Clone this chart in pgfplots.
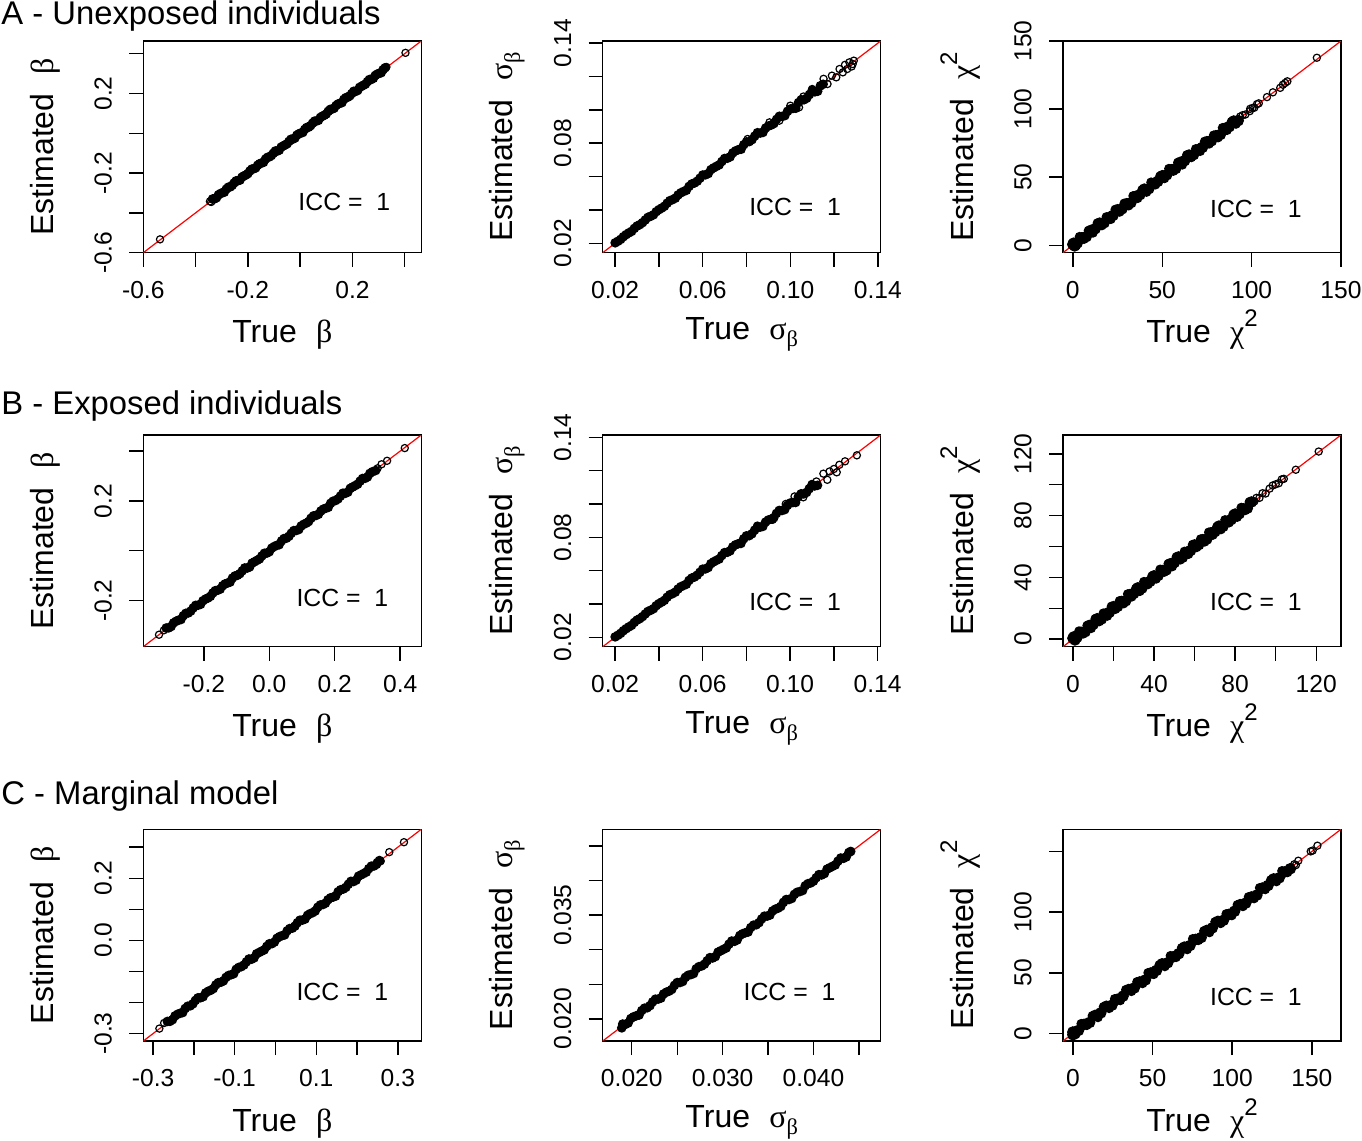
\documentclass[border=0pt]{standalone}
\usepackage{fontspec}
\setmainfont{Liberation Sans}
\newfontfamily\grk{Liberation Serif}
\usepackage{graphicx}
\usepackage{pgfplots}
\pgfplotsset{compat=1.18}
\newcommand{\bet}{{\grk β}}
\newcommand{\sig}{{\grk σ}\raisebox{-0.22em}{\scalebox{0.7}{\grk β}}}
\newcommand{\chis}{{\grk χ}\raisebox{0.5em}{\scalebox{0.75}{2}}}
\newcommand{\icc}{ICC =\ \ 1}
\tikzset{icc/.style={anchor=base, font=\fontsize{12.4}{14}\selectfont}}
\pgfplotsset{
  panel/.style={
    scale only axis, width=139pt, height=105.85pt, anchor=north west,
    axis line style={line width=0.7pt},
    every tick/.style={black, line width=0.7pt},
    tick align=outside, major tick length=7pt,
    xtick pos=bottom, ytick pos=left,
    scaled ticks=false,
    tick label style={font=\fontsize{12.3}{14}\selectfont},
    xticklabel style={anchor=base},
    yticklabel style={rotate=90, anchor=base},
    xticklabel shift=15.8pt, yticklabel shift=8.8pt,
    label style={font=\fontsize{16}{19}\selectfont},
    xlabel style={at={(axis description cs:0.5,-0.4251)}, anchor=base},
    ylabel style={at={(axis description cs:-0.3237,0.5)}, anchor=base},
  },
  sigpanel/.style={panel, xlabel style={at={(axis description cs:0.5,-0.410)}}},
  band/.style={only marks, mark=*, mark size=2.1pt, mark options={line width=0.6pt, draw=black, fill=black}},
  bandc/.style={only marks, mark=*, mark size=2.6pt, mark options={line width=0.6pt, draw=black, fill=black}},
  outl/.style={only marks, mark=o, mark size=1.8pt, mark options={line width=0.6pt, draw=black}},
  diag/.style={red, line width=0.6pt, no marks},
}
\begin{document}
\begin{tikzpicture}
\useasboundingbox (0pt,0pt) rectangle (681pt,-570.5pt);
\node[anchor=base west, inner sep=0pt, font=\fontsize{16.4}{19}\selectfont] at (0.5pt,-12pt) {A - Unexposed individuals};
\node[anchor=base west, inner sep=0pt, font=\fontsize{16.4}{19}\selectfont] at (0.5pt,-207pt) {B - Exposed individuals};
\node[anchor=base west, inner sep=0pt, font=\fontsize{16.4}{19}\selectfont] at (0.5pt,-402pt) {C - Marginal model};

% ---------- A1
\begin{axis}[panel, at={(71.65pt,-20.5pt)},
  xmin=-0.6, xmax=0.4635, ymin=-0.6, ymax=0.4635,
  xtick={-0.6,-0.4,-0.2,0,0.2,0.4}, xticklabels={-0.6,,-0.2,,0.2,},
  ytick={-0.6,-0.4,-0.2,0,0.2,0.4}, yticklabels={-0.6,,-0.2,,0.2,},
  xlabel={True\hspace{0.6em}\bet}, ylabel={Estimated\hspace{0.6em}\bet}]
\addplot[band] coordinates {(-0.335,-0.330)(-0.320,-0.324)(-0.305,-0.303)(-0.290,-0.296)(-0.275,-0.271)(-0.260,-0.262)(-0.245,-0.239)(-0.230,-0.235)(-0.215,-0.214)(-0.200,-0.203)(-0.185,-0.180)(-0.170,-0.174)(-0.155,-0.153)(-0.140,-0.146)(-0.125,-0.121)(-0.110,-0.112)(-0.095,-0.089)(-0.080,-0.085)(-0.065,-0.064)(-0.050,-0.053)(-0.035,-0.030)(-0.020,-0.024)(-0.005,-0.003)(0.010,0.004)(0.025,0.029)(0.040,0.038)(0.055,0.061)(0.070,0.065)(0.085,0.086)(0.100,0.097)(0.115,0.120)(0.130,0.126)(0.145,0.147)(0.160,0.154)(0.175,0.179)(0.190,0.188)(0.205,0.211)(0.220,0.215)(0.235,0.236)(0.250,0.247)(0.265,0.270)(0.280,0.276)(0.295,0.297)(0.310,0.304)(0.325,0.329)};
\addplot[band] coordinates {(-0.3275,-0.3295)(-0.3125,-0.3095)(-0.2975,-0.2985)(-0.2825,-0.2805)(-0.2675,-0.2695)(-0.2525,-0.2495)(-0.2375,-0.2385)(-0.2225,-0.2205)(-0.2075,-0.2095)(-0.1925,-0.1895)(-0.1775,-0.1785)(-0.1625,-0.1605)(-0.1475,-0.1495)(-0.1325,-0.1295)(-0.1175,-0.1185)(-0.1025,-0.1005)(-0.0875,-0.0895)(-0.0725,-0.0695)(-0.0575,-0.0585)(-0.0425,-0.0405)(-0.0275,-0.0295)(-0.0125,-0.0095)(0.0025,0.0015)(0.0175,0.0195)(0.0325,0.0305)(0.0475,0.0505)(0.0625,0.0615)(0.0775,0.0795)(0.0925,0.0905)(0.1075,0.1105)(0.1225,0.1215)(0.1375,0.1395)(0.1525,0.1505)(0.1675,0.1705)(0.1825,0.1815)(0.1975,0.1995)(0.2125,0.2105)(0.2275,0.2305)(0.2425,0.2415)(0.2575,0.2595)(0.2725,0.2705)(0.2875,0.2905)(0.3025,0.3015)(0.3175,0.3195)};
\addplot[outl] coordinates {(-0.536,-0.533)(0.403,0.404)(-0.345,-0.342)(-0.340,-0.345)(0.330,0.333)};
\addplot[diag] coordinates {(-1,-1)(1,1)};
\node[icc] at (rel axis cs:0.723,0.198) {\icc};
\end{axis}

% ---------- A2
\begin{axis}[sigpanel, at={(301.35pt,-20.5pt)},
  xmin=0.0143, xmax=0.1413, ymin=0.0143, ymax=0.1413,
  xtick={0.02,0.04,0.06,0.08,0.10,0.12,0.14}, xticklabels={0.02,,0.06,,0.10,,0.14},
  ytick={0.02,0.04,0.06,0.08,0.10,0.12,0.14}, yticklabels={0.02,,,0.08,,,0.14},
  xlabel={True\hspace{0.6em}\sig}, ylabel={Estimated\hspace{0.6em}\sig}]
\addplot[band] coordinates {(0.0200,0.02024)(0.0225,0.02228)(0.0250,0.02513)(0.0275,0.02709)(0.0300,0.03030)(0.0325,0.03234)(0.0350,0.03553)(0.0375,0.03705)(0.0400,0.04012)(0.0425,0.04216)(0.0450,0.04554)(0.0475,0.04703)(0.0500,0.05025)(0.0525,0.05171)(0.0550,0.05555)(0.0575,0.05721)(0.0600,0.06090)(0.0625,0.06175)(0.0650,0.06520)(0.0675,0.06696)(0.0700,0.07084)(0.0725,0.07178)(0.0750,0.07538)(0.0775,0.07634)(0.0800,0.08080)(0.0825,0.08209)(0.0850,0.08628)(0.0875,0.08645)(0.0900,0.09027)(0.0925,0.09176)(0.0950,0.09614)(0.0975,0.09653)(0.1000,0.10050)(0.1025,0.10096)(0.1050,0.10605)(0.1075,0.10696)(0.1100,0.11165)(0.1125,0.11115)(0.1150,0.11535)};
\addplot[band] coordinates {(0.02125,0.02117)(0.02375,0.02389)(0.02625,0.02620)(0.02875,0.02887)(0.03125,0.03113)(0.03375,0.03395)(0.03625,0.03618)(0.03875,0.03891)(0.04125,0.04109)(0.04375,0.04401)(0.04625,0.04616)(0.04875,0.04895)(0.05125,0.05105)(0.05375,0.05407)(0.05625,0.05614)(0.05875,0.05899)(0.06125,0.06101)(0.06375,0.06413)(0.06625,0.06612)(0.06875,0.06903)(0.07125,0.07097)(0.07375,0.07419)(0.07625,0.07610)(0.07875,0.07907)(0.08125,0.08093)(0.08375,0.08425)(0.08625,0.08608)(0.08875,0.08911)(0.09125,0.09089)(0.09375,0.09431)(0.09625,0.09606)(0.09875,0.09915)(0.10125,0.10085)(0.10375,0.10437)(0.10625,0.10604)(0.10875,0.10919)(0.11125,0.11081)(0.11375,0.11443)};
\addplot[outl] coordinates {(0.0805,0.0825)(0.0905,0.0925)(0.0950,0.0935)(0.1000,0.1025)(0.1040,0.1015)(0.1060,0.1080)(0.1100,0.1125)(0.1152,0.1186)(0.1170,0.1155)(0.1190,0.1205)(0.1210,0.1195)(0.1225,0.1245)(0.1240,0.1225)(0.1250,0.1270)(0.1260,0.1245)(0.1270,0.1285)(0.1280,0.1260)(0.1285,0.1275)(0.1290,0.1295)};
\addplot[diag] coordinates {(0,0)(0.2,0.2)};
\node[icc] at (rel axis cs:0.692,0.174) {\icc};
\end{axis}

% ---------- A3
\begin{axis}[panel, at={(531.5pt,-20.5pt)},
  xmin=-5.5, xmax=150, ymin=-5.5, ymax=150,
  xtick={0,50,100,150}, xticklabels={0,50,100,150},
  ytick={0,50,100,150}, yticklabels={0,50,100,150},
  xlabel={True\hspace{0.6em}\chis}, ylabel={Estimated\hspace{0.6em}\chis}]
\addplot[bandc] coordinates {(0,0.6)(1,-0.5)(0.5,1.5)(1.5,0.2)(2.5,1.7)(5,5.4)(7.5,6.3)(10,10.8)(12.5,12.1)(15,16.2)(17.5,16.5)(20,20.2)(22.5,21.9)(25,26.0)(27.5,26.7)(30,30.4)(32.5,31.3)(35,35.8)(37.5,37.1)(40,41.2)(42.5,41.5)(45,45.2)(47.5,46.9)(50,51.0)(52.5,51.7)(55,55.4)(57.5,56.3)(60,60.8)(62.5,62.1)(65,66.2)(67.5,66.5)(70,70.2)(72.5,71.9)(75,76.0)(77.5,76.7)(80,80.4)(82.5,81.3)(85,85.8)(87.5,87.1)(90,91.2)(92.5,91.5)};
\addplot[band] coordinates {(1.25,-0.5)(3.75,6.25)(6.25,4.45)(8.75,10.75)(11.25,9.05)(13.75,16.25)(16.25,14.45)(18.75,20.75)(21.25,19.05)(23.75,26.25)(26.25,24.45)(28.75,30.75)(31.25,29.05)(33.75,36.25)(36.25,34.45)(38.75,40.75)(41.25,39.05)(43.75,46.25)(46.25,44.45)(48.75,50.75)(51.25,49.05)(53.75,56.25)(56.25,54.45)(58.75,60.75)(61.25,59.05)(63.75,66.25)(66.25,64.45)(68.75,70.75)(71.25,69.05)(73.75,76.25)(76.25,74.45)(78.75,80.75)(81.25,79.05)(83.75,86.25)(86.25,84.45)(88.75,90.75)(91.25,89.05)};
\addplot[outl] coordinates {(93.6,94.5)(95,95.5)(96.5,96)(99,98.5)(99.2,100.2)(100.5,100.8)(101.5,101)(103,103.6)(104,104.2)(108.6,108.8)(111.9,112.3)(116,115.6)(117.5,117.9)(118.8,119.2)(120,120.4)(136.5,137.7)};
\addplot[diag] coordinates {(-20,-20)(200,200)};
\node[icc] at (rel axis cs:0.694,0.167) {\icc};
\end{axis}

% ---------- B1
\begin{axis}[panel, at={(71.65pt,-217.5pt)},
  xmin=-0.385, xmax=0.4645, ymin=-0.385, ymax=0.4645,
  xtick={-0.2,0,0.2,0.4}, xticklabels={-0.2,0.0,0.2,0.4},
  ytick={-0.2,0,0.2,0.4}, yticklabels={-0.2,,0.2,},
  xlabel={True\hspace{0.6em}\bet}, ylabel={Estimated\hspace{0.6em}\bet}]
\addplot[band] coordinates {(-0.315,-0.310)(-0.300,-0.304)(-0.285,-0.283)(-0.270,-0.276)(-0.255,-0.251)(-0.240,-0.242)(-0.225,-0.219)(-0.210,-0.215)(-0.195,-0.194)(-0.180,-0.183)(-0.165,-0.160)(-0.150,-0.154)(-0.135,-0.133)(-0.120,-0.126)(-0.105,-0.101)(-0.090,-0.092)(-0.075,-0.069)(-0.060,-0.065)(-0.045,-0.044)(-0.030,-0.033)(-0.015,-0.010)(0.000,-0.004)(0.015,0.017)(0.030,0.024)(0.045,0.049)(0.060,0.058)(0.075,0.081)(0.090,0.085)(0.105,0.106)(0.120,0.117)(0.135,0.140)(0.150,0.146)(0.165,0.167)(0.180,0.174)(0.195,0.199)(0.210,0.208)(0.225,0.231)(0.240,0.235)(0.255,0.256)(0.270,0.267)(0.285,0.290)(0.300,0.296)(0.315,0.317)(0.325,0.322)};
\addplot[band] coordinates {(-0.3075,-0.3095)(-0.2925,-0.2895)(-0.2775,-0.2785)(-0.2625,-0.2605)(-0.2475,-0.2495)(-0.2325,-0.2295)(-0.2175,-0.2185)(-0.2025,-0.2005)(-0.1875,-0.1895)(-0.1725,-0.1695)(-0.1575,-0.1585)(-0.1425,-0.1405)(-0.1275,-0.1295)(-0.1125,-0.1095)(-0.0975,-0.0985)(-0.0825,-0.0805)(-0.0675,-0.0695)(-0.0525,-0.0495)(-0.0375,-0.0385)(-0.0225,-0.0205)(-0.0075,-0.0095)(0.0075,0.0105)(0.0225,0.0215)(0.0375,0.0395)(0.0525,0.0505)(0.0675,0.0705)(0.0825,0.0815)(0.0975,0.0995)(0.1125,0.1105)(0.1275,0.1305)(0.1425,0.1415)(0.1575,0.1595)(0.1725,0.1705)(0.1875,0.1905)(0.2025,0.2015)(0.2175,0.2195)(0.2325,0.2305)(0.2475,0.2505)(0.2625,0.2615)(0.2775,0.2795)(0.2925,0.2905)(0.3075,0.3105)};
\addplot[outl] coordinates {(-0.337,-0.337)(-0.322,-0.319)(0.331,0.331)(0.343,0.347)(0.360,0.361)(0.414,0.412)};
\addplot[diag] coordinates {(-1,-1)(1,1)};
\node[icc] at (rel axis cs:0.716,0.189) {\icc};
\end{axis}

% ---------- B2
\begin{axis}[sigpanel, at={(301.35pt,-217.5pt)},
  xmin=0.0143, xmax=0.1414, ymin=0.0143, ymax=0.1414,
  xtick={0.02,0.04,0.06,0.08,0.10,0.12,0.14}, xticklabels={0.02,,0.06,,0.10,,0.14},
  ytick={0.02,0.04,0.06,0.08,0.10,0.12,0.14}, yticklabels={0.02,,,0.08,,,0.14},
  xlabel={True\hspace{0.6em}\sig}, ylabel={Estimated\hspace{0.6em}\sig}]
\addplot[band] coordinates {(0.0200,0.02020)(0.0225,0.02232)(0.0250,0.02510)(0.0275,0.02712)(0.0300,0.03027)(0.0325,0.03238)(0.0350,0.03548)(0.0375,0.03710)(0.0400,0.04015)(0.0425,0.04212)(0.0450,0.04550)(0.0475,0.04708)(0.0500,0.05030)(0.0525,0.05175)(0.0550,0.05550)(0.0575,0.05725)(0.0600,0.06085)(0.0625,0.06180)(0.0650,0.06525)(0.0675,0.06690)(0.0700,0.07080)(0.0725,0.07182)(0.0750,0.07545)(0.0775,0.07630)(0.0800,0.08085)(0.0825,0.08205)(0.0850,0.08620)(0.0875,0.08650)(0.0900,0.09035)(0.0925,0.09170)(0.0950,0.09610)(0.0975,0.09660)(0.1000,0.10055)(0.1025,0.10090)(0.1050,0.10610)(0.1075,0.10690)(0.1100,0.11150)(0.1125,0.11120)};
\addplot[band] coordinates {(0.02125,0.02117)(0.02375,0.02389)(0.02625,0.02620)(0.02875,0.02887)(0.03125,0.03113)(0.03375,0.03395)(0.03625,0.03618)(0.03875,0.03891)(0.04125,0.04109)(0.04375,0.04401)(0.04625,0.04616)(0.04875,0.04895)(0.05125,0.05105)(0.05375,0.05407)(0.05625,0.05614)(0.05875,0.05899)(0.06125,0.06101)(0.06375,0.06413)(0.06625,0.06612)(0.06875,0.06903)(0.07125,0.07097)(0.07375,0.07419)(0.07625,0.07610)(0.07875,0.07907)(0.08125,0.08093)(0.08375,0.08425)(0.08625,0.08608)(0.08875,0.08911)(0.09125,0.09089)(0.09375,0.09431)(0.09625,0.09606)(0.09875,0.09915)(0.10125,0.10085)(0.10375,0.10437)(0.10625,0.10604)(0.10875,0.10919)(0.11125,0.11081)};
\addplot[outl] coordinates {(0.0850,0.0870)(0.0920,0.0905)(0.0980,0.1000)(0.1020,0.1045)(0.1060,0.1040)(0.1100,0.1120)(0.1120,0.1135)(0.1152,0.1182)(0.1170,0.1145)(0.1180,0.1195)(0.1200,0.1210)(0.1213,0.1190)(0.1225,0.1235)(0.1251,0.1256)(0.1305,0.1292)};
\addplot[diag] coordinates {(0,0)(0.2,0.2)};
\node[icc] at (rel axis cs:0.692,0.173) {\icc};
\end{axis}

% ---------- B3
\begin{axis}[panel, at={(531.5pt,-217.5pt)},
  xmin=-4.9, xmax=132.2, ymin=-4.9, ymax=132.2,
  xtick={0,20,40,60,80,100,120}, xticklabels={0,,40,,80,,120},
  ytick={0,20,40,60,80,100,120}, yticklabels={0,,40,,80,,120},
  xlabel={True\hspace{0.6em}\chis}, ylabel={Estimated\hspace{0.6em}\chis}]
\addplot[bandc] coordinates {(0,0.6)(1,-0.5)(0.5,1.5)(2,1.2)(4,4.4)(6,4.8)(8,8.8)(10,9.6)(12,13.2)(14,13.0)(16,16.2)(18,17.4)(20,21.0)(22,21.2)(24,24.4)(26,24.8)(28,28.8)(30,29.6)(32,33.2)(34,33.0)(36,36.2)(38,37.4)(40,41.0)(42,41.2)(44,44.4)(46,44.8)(48,48.8)(50,49.6)(52,53.2)(54,53.0)(56,56.2)(58,57.4)(60,61.0)(62,61.2)(64,64.4)(66,64.8)(68,68.8)(70,69.6)(72,73.2)(74,73.0)(76,76.2)(78,77.4)(80,81.0)(82,81.2)(84,84.4)(86,84.8)(88,88.8)};
\addplot[band] coordinates {(1,-0.6)(3,5.2)(5,3.4)(7,8.8)(9,7.0)(11,13.2)(13,11.4)(15,16.8)(17,15.0)(19,21.2)(21,19.4)(23,24.8)(25,23.0)(27,29.2)(29,27.4)(31,32.8)(33,31.0)(35,37.2)(37,35.4)(39,40.8)(41,39.0)(43,45.2)(45,43.4)(47,48.8)(49,47.0)(51,53.2)(53,51.4)(55,56.8)(57,55.0)(59,61.2)(61,59.4)(63,64.8)(65,63.0)(67,69.2)(69,67.4)(71,72.8)(73,71.0)(75,77.2)(77,75.4)(79,80.8)(81,79.0)(83,85.2)(85,83.4)(87,88.8)};
\addplot[outl] coordinates {(89.5,89.2)(90.5,91.5)(92,91.5)(93.5,94.5)(95,94.3)(97,97.5)(98.5,99.5)(100,100.3)(101.5,101)(103,103.5)(104,103.8)(109.9,109.7)(121.2,121.5)};
\addplot[diag] coordinates {(-20,-20)(200,200)};
\node[icc] at (rel axis cs:0.694,0.170) {\icc};
\end{axis}

% ---------- C1
\begin{axis}[panel, at={(71.65pt,-414.65pt)},
  xmin=-0.324, xmax=0.3575, ymin=-0.324, ymax=0.3575,
  xtick={-0.3,-0.2,-0.1,0,0.1,0.2,0.3}, xticklabels={-0.3,,-0.1,,0.1,,0.3},
  ytick={-0.3,-0.2,-0.1,0,0.1,0.2,0.3}, yticklabels={-0.3,,,0.0,,0.2,},
  xlabel={True\hspace{0.6em}\bet}, ylabel={Estimated\hspace{0.6em}\bet}]
\addplot[band] coordinates {(-0.2650,-0.2610)(-0.2525,-0.2555)(-0.2400,-0.2380)(-0.2275,-0.2325)(-0.2150,-0.2120)(-0.2025,-0.2045)(-0.1900,-0.1850)(-0.1775,-0.1815)(-0.1650,-0.1640)(-0.1525,-0.1555)(-0.1400,-0.1360)(-0.1275,-0.1305)(-0.1150,-0.1130)(-0.1025,-0.1075)(-0.0900,-0.0870)(-0.0775,-0.0795)(-0.0650,-0.0600)(-0.0525,-0.0565)(-0.0400,-0.0390)(-0.0275,-0.0305)(-0.0150,-0.0110)(-0.0025,-0.0055)(0.0100,0.0120)(0.0225,0.0175)(0.0350,0.0380)(0.0475,0.0455)(0.0600,0.0650)(0.0725,0.0685)(0.0850,0.0860)(0.0975,0.0945)(0.1100,0.1140)(0.1225,0.1195)(0.1350,0.1370)(0.1475,0.1425)(0.1600,0.1630)(0.1725,0.1705)(0.1850,0.1900)(0.1975,0.1935)(0.2100,0.2110)(0.2225,0.2195)(0.2350,0.2390)(0.2475,0.2445)(0.2550,0.2570)};
\addplot[band] coordinates {(-0.25875,-0.26075)(-0.24625,-0.24325)(-0.23375,-0.23475)(-0.22125,-0.21925)(-0.20875,-0.21075)(-0.19625,-0.19325)(-0.18375,-0.18475)(-0.17125,-0.16925)(-0.15875,-0.16075)(-0.14625,-0.14325)(-0.13375,-0.13475)(-0.12125,-0.11925)(-0.10875,-0.11075)(-0.09625,-0.09325)(-0.08375,-0.08475)(-0.07125,-0.06925)(-0.05875,-0.06075)(-0.04625,-0.04325)(-0.03375,-0.03475)(-0.02125,-0.01925)(-0.00875,-0.01075)(0.00375,0.00675)(0.01625,0.01525)(0.02875,0.03075)(0.04125,0.03925)(0.05375,0.05675)(0.06625,0.06525)(0.07875,0.08075)(0.09125,0.08925)(0.10375,0.10675)(0.11625,0.11525)(0.12875,0.13075)(0.14125,0.13925)(0.15375,0.15675)(0.16625,0.16525)(0.17875,0.18075)(0.19125,0.18925)(0.20375,0.20675)(0.21625,0.21525)(0.22875,0.23075)(0.24125,0.23925)(0.25000,0.25050)};
\addplot[outl] coordinates {(-0.2846,-0.2840)(-0.2730,-0.2660)(0.2580,0.2550)(0.2790,0.2840)(0.3150,0.3160)};
\addplot[diag] coordinates {(-1,-1)(1,1)};
\node[icc] at (rel axis cs:0.716,0.193) {\icc};
\end{axis}

% ---------- C2
\begin{axis}[sigpanel, at={(301.35pt,-414.65pt)},
  xmin=0.0168, xmax=0.0474, ymin=0.0168, ymax=0.0474,
  xtick={0.020,0.025,0.030,0.035,0.040,0.045}, xticklabels={0.020,,0.030,,0.040,},
  ytick={0.020,0.025,0.030,0.035,0.040,0.045}, yticklabels={0.020,,,0.035,,},
  xlabel={True\hspace{0.6em}\sig}, ylabel={Estimated\hspace{0.6em}\sig}]
\addplot[band] coordinates {(0.0189,0.0187)(0.0190,0.01925)(0.0196,0.01940)(0.0202,0.02030)(0.0208,0.02055)(0.0214,0.02155)(0.0220,0.02190)(0.0226,0.02285)(0.0232,0.02300)(0.0238,0.02385)(0.0244,0.02425)(0.0250,0.02525)(0.0256,0.02540)(0.0262,0.02630)(0.0268,0.02655)(0.0274,0.02755)(0.0280,0.02790)(0.0286,0.02885)(0.0292,0.02900)(0.0298,0.02985)(0.0304,0.03025)(0.0310,0.03125)(0.0316,0.03140)(0.0322,0.03230)(0.0328,0.03255)(0.0334,0.03355)(0.0340,0.03390)(0.0346,0.03485)(0.0352,0.03500)(0.0358,0.03585)(0.0364,0.03625)(0.0370,0.03725)(0.0376,0.03740)(0.0382,0.03830)(0.0388,0.03855)(0.0394,0.03955)(0.0400,0.03990)(0.0406,0.04085)(0.0412,0.04100)(0.0418,0.04185)(0.0424,0.04225)(0.0430,0.04325)(0.0436,0.04340)(0.0441,0.04420)};
\addplot[band] coordinates {(0.0193,0.0192)(0.0199,0.02005)(0.0205,0.02045)(0.0211,0.0212)(0.0217,0.0216)(0.0223,0.02245)(0.0229,0.02285)(0.0235,0.0236)(0.0241,0.0240)(0.0247,0.02485)(0.0253,0.02525)(0.0259,0.0260)(0.0265,0.0264)(0.0271,0.02725)(0.0277,0.02765)(0.0283,0.0284)(0.0289,0.0288)(0.0295,0.02965)(0.0301,0.03005)(0.0307,0.0308)(0.0313,0.0312)(0.0319,0.03205)(0.0325,0.03245)(0.0331,0.0332)(0.0337,0.0336)(0.0343,0.03445)(0.0349,0.03485)(0.0355,0.0356)(0.0361,0.0360)(0.0367,0.03685)(0.0373,0.03725)(0.0379,0.0380)(0.0385,0.0384)(0.0391,0.03925)(0.0397,0.03965)(0.0403,0.0404)(0.0409,0.0408)(0.0415,0.04165)(0.0421,0.04205)(0.0427,0.0428)(0.0433,0.0432)(0.0439,0.04405)};
\addplot[diag] coordinates {(0,0)(0.1,0.1)};
\node[icc] at (rel axis cs:0.672,0.189) {\icc};
\end{axis}

% ---------- C3
\begin{axis}[panel, at={(531.5pt,-414.65pt)},
  xmin=-6.2, xmax=168.3, ymin=-6.2, ymax=168.3,
  xtick={0,50,100,150}, xticklabels={0,50,100,150},
  ytick={0,50,100,150}, yticklabels={0,50,100,},
  xlabel={True\hspace{0.6em}\chis}, ylabel={Estimated\hspace{0.6em}\chis}]
\addplot[bandc] coordinates {(0,1.2)(0,-1.0)(1,0)(3.5,2.5)(7,7.5)(10.5,9.1)(14,14.9)(17.5,17.0)(21,22.4)(24.5,23.3)(28,28.2)(31.5,30.8)(35,36.2)(38.5,37.5)(42,42.5)(45.5,44.1)(49,49.9)(52.5,52.0)(56,57.4)(59.5,58.3)(63,63.2)(66.5,65.8)(70,71.2)(73.5,72.5)(77,77.5)(80.5,79.1)(84,84.9)(87.5,87.0)(91,92.4)(94.5,93.3)(98,98.2)(101.5,100.8)(105,106.2)(108.5,107.5)(112,112.5)(115.5,114.1)(119,119.9)(122.5,122.0)(126,127.4)(129.5,128.3)(133,133.2)(136.5,135.8)};
\addplot[band] coordinates {(1.75,-0.75)(5.25,8.05)(8.75,6.75)(12.25,14.55)(15.75,13.25)(19.25,22.05)(22.75,20.75)(26.25,28.55)(29.75,27.25)(33.25,36.05)(36.75,34.75)(40.25,42.55)(43.75,41.25)(47.25,50.05)(50.75,48.75)(54.25,56.55)(57.75,55.25)(61.25,64.05)(64.75,62.75)(68.25,70.55)(71.75,69.25)(75.25,78.05)(78.75,76.75)(82.25,84.55)(85.75,83.25)(89.25,92.05)(92.75,90.75)(96.25,98.55)(99.75,97.25)(103.25,106.05)(106.75,104.75)(110.25,112.55)(113.75,111.25)(117.25,120.05)(120.75,118.75)(124.25,126.55)(127.75,125.25)(131.25,134.05)(134.75,132.75)};
\addplot[outl] coordinates {(125,127)(128,126.5)(139,139.5)(140,138.8)(141.5,142.4)(149.3,150.1)(150.5,150.8)(153.5,154.8)};
\addplot[diag] coordinates {(-20,-20)(200,200)};
\node[icc] at (rel axis cs:0.694,0.166) {\icc};
\end{axis}
\end{tikzpicture}
\end{document}
